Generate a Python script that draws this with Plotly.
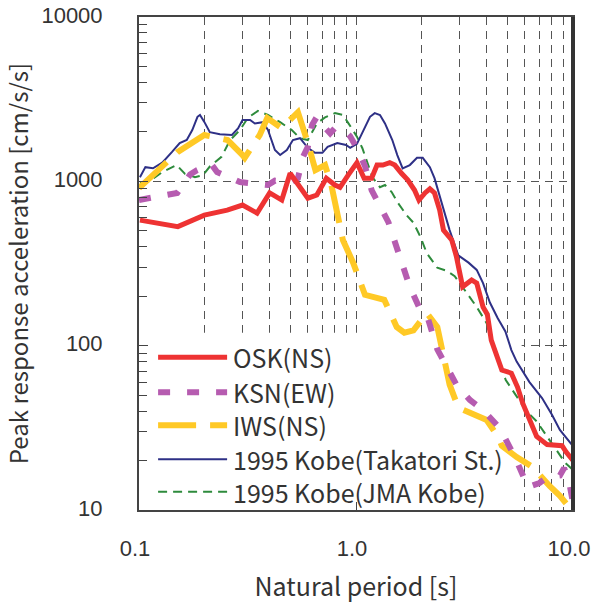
import plotly.graph_objects as go

# OSK(NS)
osk_t = [0.101, 0.151, 0.2, 0.255, 0.3, 0.35, 0.4, 0.455, 0.497, 0.54, 0.6, 0.66, 0.73, 0.8,
         0.844, 0.92, 1.01, 1.09, 1.18, 1.25, 1.33, 1.43, 1.51, 1.62, 1.73, 1.86, 1.95, 2.08,
         2.19, 2.3, 2.43, 2.53, 2.76, 2.9, 3.1, 3.41, 3.6, 3.85, 4.03, 4.2, 4.45, 4.7, 5.2,
         5.55, 5.87, 6.3, 6.8, 7.6, 8.2, 8.9, 9.3, 10.0]
osk_a = [581, 530, 623, 668, 717, 641, 850, 769, 1120, 949, 790, 825, 1045, 949,
         920, 1092, 1300, 1045, 1045, 1256, 1256, 1300, 1256, 1120, 1020, 885, 769, 850,
         900, 850, 669, 505, 440, 350, 228, 251, 240, 172, 155, 108, 88, 71, 68,
         56, 44.5, 35.3, 28, 25, 24.6, 24.6, 22.5, 20]

# KSN(EW)
ksn_t = [0.1, 0.142, 0.15, 0.172, 0.185, 0.215, 0.229, 0.292, 0.393, 0.423, 0.506, 0.54,
         0.57, 0.6, 0.627, 0.66, 0.7, 0.76, 0.8, 0.86, 0.94, 1.02, 1.1, 1.18, 1.29, 1.41,
         1.5, 1.59, 1.77, 1.98, 2.15, 2.37, 2.7, 2.9, 3.35, 3.85, 4.6, 5.4, 6.2, 7.0, 7.6,
         8.7, 9.1, 9.6, 10.0]
ksn_a = [770, 825, 850, 1100, 1170, 1275, 1140, 990, 950, 1010, 990, 1045,
         1410, 1620, 2200, 2470, 2200, 1960, 2110, 2110, 1880, 1550, 1240, 885, 700, 565,
         440, 350, 228, 165, 145, 95, 69, 58, 46.7, 40.6, 31.5, 21, 13.8, 14.6, 15.8,
         16.2, 18, 14.8, 11]

# IWS(NS)
iws_t = [0.1, 0.142, 0.151, 0.2, 0.256, 0.3, 0.307, 0.36, 0.39, 0.455, 0.54, 0.6, 0.65,
         0.72, 0.77, 0.87, 0.97, 1.1, 1.26, 1.35, 1.54, 1.67, 1.84, 2.12, 2.37, 2.5, 2.7,
         2.96, 4.0, 4.5, 4.7, 5.5, 6.5, 7.8, 8.7, 9.5, 10.0]
iws_a = [910, 1390, 1510, 1914, 1784, 1445, 1390, 1914, 2425, 2110, 2635, 1710, 1170,
         1256, 949, 439, 320, 204, 195, 190, 130, 120, 124, 158, 130, 94, 58,
         42, 35.3, 28, 24.6, 21, 18.3, 14, 12.2, 10.6, 10.2]

# 1995 Kobe (Takatori St.)
tak_t = [0.101, 0.107, 0.116, 0.128, 0.142, 0.154, 0.166, 0.176, 0.186, 0.191, 0.2, 0.212,
         0.236, 0.268, 0.286, 0.3, 0.325, 0.342, 0.372, 0.393, 0.423, 0.447, 0.48, 0.512,
         0.552, 0.6, 0.647, 0.7, 0.74, 0.82, 0.9, 0.94, 1.01, 1.07, 1.16, 1.22, 1.29, 1.36,
         1.47, 1.55, 1.64, 1.77, 1.91, 2.03, 2.19, 2.3, 2.48, 2.7, 2.96, 3.3, 3.6, 3.85,
         4.14, 4.5, 4.88, 5.2, 5.5, 6.3, 7.2, 8.0, 8.7, 10.0]
tak_a = [1060, 1220, 1200, 1300, 1510, 1710, 1784, 2053, 2470, 2535, 2300, 1990,
         1935, 1914, 2100, 2363, 2363, 2250, 2290, 2053, 1550, 1445, 1550, 1784,
         1830, 1600, 1490, 1490, 1620, 1710, 1663, 1600, 1690, 2000, 2470, 2600, 2535, 2250,
         1784, 1445, 1200, 1256, 1390, 1390, 1220, 1045, 740, 505, 355, 320, 289, 240,
         183, 147, 122, 94, 80, 60, 48, 38, 30.7, 24.5]

# 1995 Kobe (JMA Kobe)
jma_t = [0.101, 0.11, 0.129, 0.149, 0.163, 0.181, 0.197, 0.212, 0.24, 0.263, 0.292, 0.318,
         0.353, 0.393, 0.447, 0.506, 0.552, 0.6, 0.66, 0.72, 0.8, 0.87, 0.92, 1.01, 1.07,
         1.13, 1.19, 1.29, 1.36, 1.46, 1.56, 1.71, 1.84, 1.98, 2.12, 2.37, 2.62, 2.85, 3.17,
         3.6, 4.0, 4.35, 4.9, 5.5, 6.1, 6.8, 7.6, 8.4, 9.2, 10.0]
jma_a = [980, 990, 1145, 1256, 1110, 1060, 1090, 1230, 1410, 1784, 2053, 2440,
         2680, 2535, 2290, 2053, 1830, 1784, 2250, 2450, 2600, 2535, 2270, 1870, 1590,
         1300, 1060, 920, 950, 860, 740, 623, 560, 460, 365, 298, 285, 265, 218,
         172, 137, 94, 61.8, 49, 40, 34.6, 28, 23.2, 19.4, 17.5]

names = ["OSK(NS)", "KSN(EW)", "IWS(NS)", "1995 Kobe(Takatori St.)", "1995 Kobe(JMA Kobe)"]
colors = ["#EE3333", "#B65CB0", "#FFC926", "#2E3086", "#2E8B3C"]
widths = [5, 6, 6, 2, 2]
dashes = ["solid", "12px,17px", "38px,14px", "solid", "9px,6px"]
series = [(osk_t, osk_a), (ksn_t, ksn_a), (iws_t, iws_a), (tak_t, tak_a), (jma_t, jma_a)]

FONT = "Noto Sans CJK JP"
TICKFONT = "Liberation Sans"
TXT = "#333333"

fig = go.Figure()

# draw the thin lines first so the thick ones sit on top
for i in [4, 3, 2, 1, 0]:
    t, a = series[i]
    fig.add_trace(
        go.Scatter(
            x=t,
            y=a,
            mode="lines",
            name=names[i],
            line=dict(color=colors[i], width=widths[i], dash=dashes[i]),
            showlegend=False,
        )
    )

# white box behind the legend hides the grid there
shapes = [
    dict(type="rect", xref="x", yref="y", x0=0.1, x1=5.8, y0=10, y1=120,
         fillcolor="white", line=dict(width=0), layer="between"),
    # heavier right edge of the frame
    dict(type="line", xref="paper", yref="paper", x0=1, x1=1, y0=0, y1=1,
         line=dict(color="#333333", width=4), layer="above"),
]
annotations = []

# hand drawn legend (long line samples)
leg_y = [0.310, 0.239, 0.172, 0.103, 0.037]
for i in range(5):
    shapes.append(
        dict(type="line", xref="paper", yref="paper", x0=0.044, x1=0.203,
             y0=leg_y[i], y1=leg_y[i],
             line=dict(color=colors[i], width=widths[i], dash=dashes[i]),
             layer="above")
    )
    annotations.append(
        dict(x=0.212, y=leg_y[i], xref="paper", yref="paper", text=names[i],
             showarrow=False, xanchor="left", yanchor="middle",
             font=dict(size=25, color=TXT, family=FONT))
    )

fig.update_layout(
    width=595,
    height=603,
    margin=dict(l=139, r=22, t=17, b=93),
    plot_bgcolor="white",
    paper_bgcolor="white",
    font=dict(family=FONT, color=TXT, size=22),
    shapes=shapes,
    annotations=annotations,
    showlegend=False,
    xaxis=dict(
        type="log",
        range=[-1, 1],
        automargin=False,
        tickvals=[0.1, 1, 10],
        ticktext=["0.1", "1.0", "10.0"],
        ticks="inside",
        ticklen=8,
        tickcolor="#444444",
        tickfont=dict(size=22, color=TXT, family=TICKFONT),
        ticklabelstandoff=18,
        ticklabelshift=-4,
        ticklabeloverflow="allow",
        showline=True,
        linecolor="#444444",
        linewidth=2,
        mirror=True,
        showgrid=True,
        gridcolor="#555555",
        gridwidth=1.3,
        griddash="8px,6px",
        minor=dict(dtick="D1", showgrid=True, gridcolor="#555555", gridwidth=1.3,
                   griddash="8px,6px", ticks=""),
        title=dict(text="Natural period [s]", font=dict(size=25, color=TXT), standoff=22),
        zeroline=False,
    ),
    yaxis=dict(
        type="log",
        range=[1, 4],
        automargin=False,
        tickvals=[10, 100, 1000, 10000],
        ticktext=["10", "100", "1000", "10000"],
        ticks="inside",
        ticklen=9,
        tickcolor="#444444",
        tickfont=dict(size=22, color=TXT, family=TICKFONT),
        ticklabelstandoff=30,
        ticklabelshift=-2,
        ticklabeloverflow="allow",
        showline=True,
        linecolor="#444444",
        linewidth=2,
        mirror=True,
        showgrid=True,
        gridcolor="#555555",
        gridwidth=1.3,
        griddash="8px,6px",
        minor=dict(dtick="D1", ticks="inside", ticklen=8, tickcolor="#444444", showgrid=False),
        title=dict(text="Peak response acceleration [cm/s/s]", font=dict(size=24, color=TXT),
                   standoff=22),
        zeroline=False,
    ),
)

# drop the default 8px body margin so the figure fills the window
fig.write_html(
    "out.html",
    config={"displayModeBar": False},
    post_script="document.body.style.margin = '0';",
)
